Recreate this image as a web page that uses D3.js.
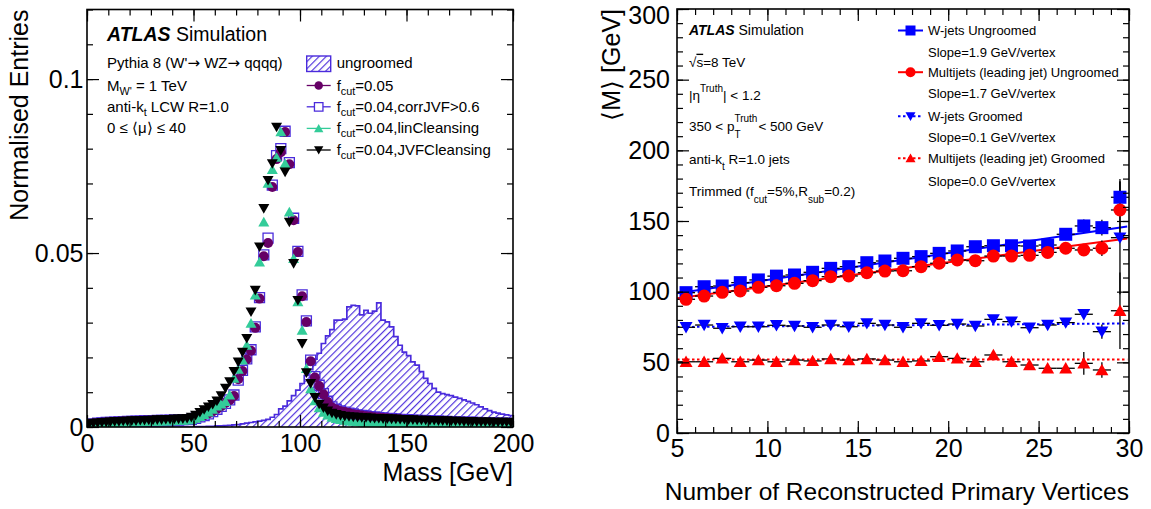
<!DOCTYPE html>
<html>
<head>
<meta charset="utf-8">
<script src="https://cdn.jsdelivr.net/npm/d3@7"></script>
<style>
  body { margin: 0; background: #fff; }
  svg { font-family: "Liberation Sans", Arial, Helvetica, sans-serif; }
</style>
</head>
<body>
<svg id="chart" width="1151" height="509"></svg>
<script>
// ---------------- Left panel: jet mass distributions (2 GeV bins, centres 1..199) ----------------
const massBinCentres = d3.range(1, 200, 2);

const ungroomed = [
  0, 0, 0, 0, 0, 0, 0, 0, 0, 0,
  0, 0, 0, 0, 0, 0, 0, 0, 0, 0,
  0, 0, 0, 0, 0, 0.0001, 0.0001, 0.0001, 0.0002, 0.0002,
  0.0003, 0.0003, 0.0004, 0.0005, 0.0006, 0.0007, 0.0009, 0.0011, 0.0013, 0.0015,
  0.0017, 0.0019, 0.0022, 0.0028, 0.0036, 0.0052, 0.0060, 0.0075, 0.0090, 0.0106,
  0.0125, 0.0148, 0.0165, 0.0195, 0.0212, 0.0240, 0.0262, 0.0280, 0.0307, 0.0307,
  0.0310, 0.0345, 0.0350, 0.0348, 0.0322, 0.0335, 0.0327, 0.0333, 0.0357, 0.0307,
  0.0302, 0.0288, 0.0260, 0.0235, 0.0215, 0.0205, 0.0187, 0.0178, 0.0159, 0.0140,
  0.0125, 0.0111, 0.0100, 0.0096, 0.0093, 0.0090, 0.0086, 0.0082, 0.0078, 0.0074,
  0.0069, 0.0064, 0.0058, 0.0052, 0.0047, 0.0043, 0.0040, 0.0037, 0.0035, 0.0033
];

const fcut005 = [
  0.0008, 0.0010, 0.0011, 0.0012, 0.0013, 0.0014, 0.0015, 0.0015, 0.0016, 0.0016,
  0.0017, 0.0017, 0.0018, 0.0018, 0.0018, 0.0019, 0.0019, 0.0019, 0.0020, 0.0020,
  0.0020, 0.0021, 0.0021, 0.0022, 0.0023, 0.0026, 0.0030, 0.0034, 0.0039, 0.0045,
  0.0052, 0.0060, 0.0069, 0.0077, 0.0089, 0.0137, 0.0161, 0.0194, 0.0219, 0.0285,
  0.0369, 0.0491, 0.0529, 0.0690, 0.0770, 0.0790, 0.0848, 0.0755, 0.0594, 0.0503,
  0.0376, 0.0302, 0.0189, 0.0142, 0.0118, 0.0094, 0.0072, 0.0056, 0.0050, 0.0045,
  0.0043, 0.0040, 0.0037, 0.0035, 0.0033, 0.0031, 0.0030, 0.0028, 0.0027, 0.0026,
  0.0025, 0.0024, 0.0023, 0.0022, 0.0021, 0.0020, 0.0019, 0.0019, 0.0018, 0.0018,
  0.0017, 0.0017, 0.0016, 0.0016, 0.0015, 0.0015, 0.0014, 0.0014, 0.0014, 0.0013,
  0.0013, 0.0012, 0.0012, 0.0012, 0.0011, 0.0011, 0.0011, 0.0010, 0.0010, 0.0010
];

const fcut004CorrJVF = [
  0.0007, 0.0009, 0.0011, 0.0012, 0.0013, 0.0013, 0.0014, 0.0015, 0.0015, 0.0016,
  0.0016, 0.0017, 0.0017, 0.0018, 0.0018, 0.0018, 0.0019, 0.0019, 0.0019, 0.0020,
  0.0020, 0.0020, 0.0021, 0.0021, 0.0022, 0.0025, 0.0029, 0.0033, 0.0038, 0.0044,
  0.0051, 0.0059, 0.0068, 0.0078, 0.0092, 0.0135, 0.0163, 0.0196, 0.0222, 0.0288,
  0.0372, 0.0495, 0.0543, 0.0695, 0.0780, 0.0800, 0.0850, 0.0760, 0.0600, 0.0505,
  0.0380, 0.0305, 0.0192, 0.0145, 0.0120, 0.0096, 0.0074, 0.0058, 0.0051, 0.0046,
  0.0043, 0.0040, 0.0038, 0.0035, 0.0033, 0.0032, 0.0030, 0.0029, 0.0027, 0.0026,
  0.0025, 0.0024, 0.0023, 0.0022, 0.0021, 0.0021, 0.0020, 0.0019, 0.0019, 0.0018,
  0.0018, 0.0017, 0.0017, 0.0016, 0.0016, 0.0015, 0.0015, 0.0014, 0.0014, 0.0014,
  0.0013, 0.0013, 0.0012, 0.0012, 0.0012, 0.0011, 0.0011, 0.0011, 0.0010, 0.0010
];

const fcut004LinCleansing = [
  0.0006, 0.0008, 0.0009, 0.0010, 0.0011, 0.0012, 0.0012, 0.0013, 0.0013, 0.0014,
  0.0014, 0.0015, 0.0015, 0.0015, 0.0016, 0.0016, 0.0016, 0.0017, 0.0017, 0.0018,
  0.0018, 0.0019, 0.0019, 0.0020, 0.0021, 0.0025, 0.0030, 0.0036, 0.0043, 0.0051,
  0.0060, 0.0066, 0.0073, 0.0092, 0.0140, 0.0166, 0.0192, 0.0235, 0.0298, 0.0379,
  0.0474, 0.0589, 0.0700, 0.0740, 0.0775, 0.0848, 0.0757, 0.0618, 0.0484, 0.0360,
  0.0278, 0.0168, 0.0110, 0.0075, 0.0055, 0.0042, 0.0034, 0.0028, 0.0024, 0.0021,
  0.0019, 0.0017, 0.0016, 0.0015, 0.0014, 0.0013, 0.0013, 0.0012, 0.0012, 0.0011,
  0.0011, 0.0011, 0.0010, 0.0010, 0.0010, 0.0010, 0.0009, 0.0009, 0.0009, 0.0009,
  0.0009, 0.0009, 0.0008, 0.0008, 0.0008, 0.0008, 0.0008, 0.0008, 0.0008, 0.0007,
  0.0007, 0.0007, 0.0007, 0.0007, 0.0007, 0.0007, 0.0006, 0.0006, 0.0006, 0.0006
];

const fcut004JVFCleansing = [
  0.0009, 0.0011, 0.0012, 0.0013, 0.0014, 0.0015, 0.0016, 0.0016, 0.0017, 0.0017,
  0.0018, 0.0018, 0.0019, 0.0019, 0.0020, 0.0020, 0.0021, 0.0021, 0.0022, 0.0022,
  0.0023, 0.0023, 0.0024, 0.0025, 0.0028, 0.0034, 0.0042, 0.0050, 0.0058, 0.0065,
  0.0075, 0.0090, 0.0112, 0.0130, 0.0160, 0.0187, 0.0215, 0.0255, 0.0331, 0.0393,
  0.0518, 0.0628, 0.0709, 0.0757, 0.0862, 0.0795, 0.0733, 0.0589, 0.0470, 0.0364,
  0.0240, 0.0156, 0.0125, 0.0085, 0.0066, 0.0055, 0.0046, 0.0040, 0.0036, 0.0033,
  0.0031, 0.0030, 0.0029, 0.0028, 0.0027, 0.0027, 0.0026, 0.0025, 0.0025, 0.0024,
  0.0024, 0.0023, 0.0023, 0.0022, 0.0022, 0.0021, 0.0021, 0.0020, 0.0020, 0.0020,
  0.0019, 0.0019, 0.0018, 0.0018, 0.0018, 0.0017, 0.0017, 0.0017, 0.0016, 0.0016,
  0.0016, 0.0015, 0.0015, 0.0015, 0.0015, 0.0014, 0.0014, 0.0014, 0.0014, 0.0013
];

const massMajorTicks = [0, 50, 100, 150, 200];
const massTickLabels = ["0", "50", "100", "150", "200"];
const entriesMajorTicks = [0, 0.05, 0.1];
const entriesTickLabels = ["0", "0.05", "0.1"];

// ---------------- Right panel: mean jet mass vs. number of primary vertices ----------------
const nVertices = d3.range(5.5, 30, 1);

const wjetsUngroomed = [99.3, 103.5, 104.0, 106.4, 108.3, 111.0, 111.8, 113.7, 116.5, 117.7,
  120.5, 121.7, 123.6, 124.8, 127.1, 128.8, 131.8, 132.5, 132.5, 132.3, 133.0, 140.6, 146.5, 145.3, 166.8];
const wjetsUngroomedErr = [0.8, 0.8, 0.8, 0.8, 0.8, 0.8, 0.8, 0.8, 0.8, 0.8,
  0.9, 0.9, 0.9, 1.0, 1.0, 1.1, 1.2, 1.3, 1.5, 1.7, 2.0, 2.5, 4.5, 5.5, 11];

const multijetUngroomed = [94.6, 96.9, 99.5, 100.5, 103.1, 104.2, 105.9, 107.8, 110.6, 111.1,
  113.4, 114.6, 114.8, 117.7, 120.1, 122.4, 121.9, 125.2, 125.2, 125.7, 127.8, 130.7, 129.5, 130.7, 157.8];
const multijetUngroomedErr = [0.8, 0.8, 0.8, 0.8, 0.8, 0.8, 0.8, 0.8, 0.8, 0.8,
  0.9, 0.9, 0.9, 1.0, 1.0, 1.1, 1.2, 1.3, 1.5, 1.7, 2.0, 2.5, 4.0, 5.5, 22];

const wjetsGroomed = [74.8, 76.4, 74.1, 75.2, 75.2, 76.2, 75.7, 74.8, 76.4, 75.2,
  77.6, 76.4, 74.8, 77.6, 76.2, 77.1, 75.7, 80.4, 78.8, 74.5, 76.4, 78.1, 84.0, 71.7, 138.2];
const wjetsGroomedErr = [0.6, 0.6, 0.6, 0.6, 0.6, 0.6, 0.6, 0.6, 0.6, 0.6,
  0.7, 0.7, 0.7, 0.8, 0.8, 0.9, 1.0, 1.1, 1.3, 1.5, 1.8, 2.5, 3.5, 5.0, 40];

const multijetGroomed = [50.4, 50.4, 52.8, 50.4, 51.6, 50.4, 51.6, 51.0, 52.4, 51.6,
  52.4, 51.6, 50.4, 51.0, 54.0, 52.8, 50.4, 55.2, 50.4, 48.1, 45.8, 45.8, 49.3, 44.6, 86.5];
const multijetGroomedErr = [0.6, 0.6, 0.6, 0.6, 0.6, 0.6, 0.6, 0.6, 0.6, 0.6,
  0.7, 0.7, 0.7, 0.8, 0.8, 0.9, 1.0, 1.1, 1.3, 1.5, 2.0, 3.0, 8.0, 5.5, 27];

// linear fits: value at 5 vertices and slope in GeV/vertex
const fitOffsets = [98.8, 95.3, 75.0, 52.0];
const fitSlopes = [1.9, 1.7, 0.1, 0.0];

const vertexMajorTicks = [5, 10, 15, 20, 25, 30];
const vertexTickLabels = ["5", "10", "15", "20", "25", "30"];
const meanMassMajorTicks = [0, 50, 100, 150, 200, 250, 300];
const meanMassTickLabels = ["0", "50", "100", "150", "200", "250", "300"];

// ---------------- drawing ----------------
const svg = d3.select("#chart");
const FONT = '"Liberation Sans", Arial, Helvetica, sans-serif';

const colUngroomed = "#4a2bdc";
const colFcut005 = "#660066";
const colCorrJVF = "#4a2bdc";
const colLin = "#33cc99";
const colJVF = "#000000";

const defs = svg.append("defs");
defs.append("pattern")
  .attr("id", "hatch")
  .attr("patternUnits", "userSpaceOnUse")
  .attr("width", 5).attr("height", 10)
  .attr("patternTransform", "rotate(45)")
  .append("line")
  .attr("x1", 0.6).attr("y1", 0).attr("x2", 0.6).attr("y2", 10)
  .attr("stroke", colUngroomed).attr("stroke-width", 1.15);

function markerPath(kind, s) {
  switch (kind) {
    case "circle": return d3.symbol(d3.symbolCircle, Math.PI * s * s)();
    case "square": return d3.symbol(d3.symbolSquare, 4 * s * s)();
    case "up": return `M${-s},${s * 0.8}L${s},${s * 0.8}L0,${-s * 0.95}Z`;
    case "down": return `M${-s},${-s * 0.8}L${s},${-s * 0.8}L0,${s * 0.95}Z`;
  }
}

// draws ROOT-style inward ticks on all four sides
function drawFrame(g, x, y, xMaj, xMin, yMaj, yMin, xLabels, yLabels, xPad, yPad) {
  const [x0, x1] = x.range();
  const [yb, yt] = y.range();
  const major = 12, minor = 6;

  g.append("g").attr("transform", `translate(0,${yb})`)
    .call(d3.axisBottom(x).tickValues(xMaj).tickSizeInner(-major).tickSizeOuter(0)
      .tickPadding(xPad).tickFormat((d, i) => xLabels[i]));
  const left = g.append("g").attr("transform", `translate(${x0},0)`)
    .call(d3.axisLeft(y).tickValues(yMaj).tickSizeInner(-major).tickSizeOuter(0)
      .tickPadding(yPad).tickFormat((d, i) => yLabels[i]));
  // keep the label at the very top of the frame inside the page
  left.selectAll(".tick text").filter(d => y(d) - yt < 1).attr("dy", 14);
  g.append("g").attr("transform", `translate(0,${yb})`)
    .call(d3.axisBottom(x).tickValues(xMin).tickSizeInner(-minor).tickSizeOuter(0).tickFormat(""));
  g.append("g").attr("transform", `translate(${x0},0)`)
    .call(d3.axisLeft(y).tickValues(yMin).tickSizeInner(-minor).tickSizeOuter(0).tickFormat(""));
  g.append("g").attr("transform", `translate(0,${yt})`)
    .call(d3.axisTop(x).tickValues(xMaj).tickSizeInner(-major).tickSizeOuter(0).tickFormat(""));
  g.append("g").attr("transform", `translate(0,${yt})`)
    .call(d3.axisTop(x).tickValues(xMin).tickSizeInner(-minor).tickSizeOuter(0).tickFormat(""));
  g.append("g").attr("transform", `translate(${x1},0)`)
    .call(d3.axisRight(y).tickValues(yMaj).tickSizeInner(-major).tickSizeOuter(0).tickFormat(""));
  g.append("g").attr("transform", `translate(${x1},0)`)
    .call(d3.axisRight(y).tickValues(yMin).tickSizeInner(-minor).tickSizeOuter(0).tickFormat(""));

  g.selectAll(".domain").remove();
  g.selectAll(".tick line").attr("stroke", "#000").attr("stroke-width", 1.2);
  g.selectAll("g").attr("font-family", FONT).attr("font-size", 25);
  g.selectAll(".tick text").attr("fill", "#000");

  g.append("rect")
    .attr("x", x0).attr("y", yt).attr("width", x1 - x0).attr("height", yb - yt)
    .attr("fill", "none").attr("stroke", "#000").attr("stroke-width", 1.6);
}

// text with sub/superscripts: parts = [{t, sub?, sup?}]
function richText(g, x, y, parts, size, opts = {}) {
  const t = g.append("text").attr("x", x).attr("y", y)
    .attr("font-size", size).attr("fill", "#000");
  if (opts.anchor) t.attr("text-anchor", opts.anchor);
  let shift = 0;
  parts.forEach(p => {
    let target = 0;
    const s = p.size || size * 0.72;
    if (p.sub) target = p.sub === true ? size * 0.3 : p.sub;
    if (p.sup) target = -(p.sup === true ? size * 0.45 : p.sup);
    const ts = t.append("tspan").text(p.t).attr("dy", target - shift);
    if (p.sub || p.sup) ts.attr("font-size", s);
    if (p.dx) ts.attr("dx", p.dx);
    if (p.style) ts.attr("font-style", p.style);
    if (p.weight) ts.attr("font-weight", p.weight);
    if (p.family) ts.attr("font-family", p.family);
    if (p.over) ts.attr("text-decoration", "overline");
    shift = target;
  });
  return t;
}

// ===== Left panel =====
const L = { x0: 87, x1: 513, y0: 9.5, y1: 427 };
const xL = d3.scaleLinear().domain([0, 200]).range([L.x0, L.x1]);
const yL = d3.scaleLinear().domain([0, 0.12]).range([L.y1, L.y0]);

const gL = svg.append("g");
defs.append("clipPath").attr("id", "clipL").append("rect")
  .attr("x", L.x0).attr("y", L.y0).attr("width", L.x1 - L.x0).attr("height", L.y1 - L.y0);

const plotL = gL.append("g").attr("clip-path", "url(#clipL)");

// ungroomed histogram (step outline + hatched fill)
const histPts = massBinCentres.map((c, i) => [c - 1, ungroomed[i]]);
histPts.push([200, ungroomed[ungroomed.length - 1]]);
plotL.append("path")
  .attr("d", d3.area().curve(d3.curveStepAfter)
    .x(d => xL(d[0])).y0(yL(0)).y1(d => yL(d[1]))(histPts))
  .attr("fill", "url(#hatch)");
plotL.append("path")
  .attr("d", d3.line().curve(d3.curveStepAfter)
    .x(d => xL(d[0])).y(d => yL(d[1]))(histPts))
  .attr("fill", "none").attr("stroke", colUngroomed).attr("stroke-width", 1.7);

const leftSeries = [
  { values: fcut004CorrJVF, kind: "square", color: colCorrJVF, size: 5, open: true },
  { values: fcut005, kind: "circle", color: colFcut005, size: 5 },
  { values: fcut004LinCleansing, kind: "up", color: colLin, size: 5.5 },
  { values: fcut004JVFCleansing, kind: "down", color: colJVF, size: 5.5 }
];
leftSeries.forEach(s => {
  plotL.append("g").selectAll("path")
    .data(massBinCentres.map((c, i) => [c, s.values[i]]))
    .join("path")
    .attr("transform", d => `translate(${xL(d[0])},${yL(d[1])})`)
    .attr("d", markerPath(s.kind, s.size))
    .attr("fill", s.open ? "none" : s.color)
    .attr("stroke", s.open ? s.color : "none")
    .attr("stroke-width", 1.3);
});

drawFrame(gL, xL, yL, massMajorTicks, d3.range(0, 201, 10),
  entriesMajorTicks, d3.range(0, 13).map(i => i / 100),
  massTickLabels, entriesTickLabels, 7.5, 3.5);

// axis titles
gL.append("text").attr("x", L.x1).attr("y", 481).attr("text-anchor", "end")
  .attr("font-size", 25).text("Mass [GeV]");
gL.append("text").attr("transform", `translate(28,${L.y0}) rotate(-90)`)
  .attr("text-anchor", "end").attr("font-size", 25).text("Normalised Entries");

// labels
richText(gL, 107, 41, [{ t: "ATLAS", weight: "bold", style: "italic" }, { t: " Simulation" }], 19.5);
const tsz = 15;
const ARROW_FONT = '"DejaVu Sans", sans-serif';
richText(gL, 107, 68.3, [{ t: "Pythia 8 (W'" }, { t: "\u2192", family: ARROW_FONT }, { t: " WZ" },
  { t: "\u2192", family: ARROW_FONT }, { t: " qqqq)" }], tsz);
richText(gL, 107, 90.5, [{ t: "M" }, { t: "W'", sub: 4 }, { t: " = 1 TeV" }], tsz);
richText(gL, 107, 111.8, [{ t: "anti-k" }, { t: "t", sub: 4 }, { t: " LCW R=1.0" }], tsz);
richText(gL, 107, 133.4, [{ t: "0 \u2264 \u27e8\u03bc\u27e9 \u2264 40" }], tsz);

// legend
const legX0 = 306.7, legX1 = 330.7, legTx = 336.7;
gL.append("rect").attr("x", legX0).attr("y", 56).attr("width", legX1 - legX0).attr("height", 15.5)
  .attr("fill", "url(#hatch)").attr("stroke", colUngroomed).attr("stroke-width", 1.4);
richText(gL, legTx, 68.3, [{ t: "ungroomed" }], tsz);
const legRows = [
  { base: 90.5, s: leftSeries[1], label: "=0.05" },
  { base: 111.8, s: leftSeries[0], label: "=0.04,corrJVF>0.6" },
  { base: 133.4, s: leftSeries[2], label: "=0.04,linCleansing" },
  { base: 155, s: leftSeries[3], label: "=0.04,JVFCleansing" }
];
legRows.forEach(r => {
  const cy = r.base - 5;
  gL.append("line").attr("x1", legX0).attr("x2", legX1).attr("y1", cy).attr("y2", cy)
    .attr("stroke", r.s.color).attr("stroke-width", 1.3);
  gL.append("path").attr("transform", `translate(${(legX0 + legX1) / 2},${cy})`)
    .attr("d", markerPath(r.s.kind, r.s.size * 0.85))
    .attr("fill", r.s.open ? "#fff" : r.s.color)
    .attr("stroke", r.s.open ? r.s.color : "none").attr("stroke-width", 1.3);
  richText(gL, legTx, r.base, [{ t: "f" }, { t: "cut", sub: 4 }, { t: r.label }], tsz);
});

// ===== Right panel =====
const R = { x0: 677, x1: 1129, y0: 9, y1: 433 };
const xR = d3.scaleLinear().domain([5, 30]).range([R.x0, R.x1]);
const yR = d3.scaleLinear().domain([0, 300]).range([R.y1, R.y0]);

const gR = svg.append("g");
defs.append("clipPath").attr("id", "clipR").append("rect")
  .attr("x", R.x0).attr("y", R.y0).attr("width", R.x1 - R.x0).attr("height", R.y1 - R.y0);
const plotR = gR.append("g").attr("clip-path", "url(#clipR)");

const rightSeries = [
  { values: wjetsUngroomed, err: wjetsUngroomedErr, kind: "square", color: "#0000ff", dash: null,
    label: "W-jets Ungroomed" },
  { values: multijetUngroomed, err: multijetUngroomedErr, kind: "circle", color: "#ff0000", dash: null,
    label: "Multijets (leading jet) Ungroomed" },
  { values: wjetsGroomed, err: wjetsGroomedErr, kind: "down", color: "#0000ff", dash: "2.5,2.5",
    label: "W-jets Groomed" },
  { values: multijetGroomed, err: multijetGroomedErr, kind: "up", color: "#ff0000", dash: "2.5,2.5",
    label: "Multijets (leading jet) Groomed" }
];

// fit lines
rightSeries.forEach((s, k) => {
  const ends = [5, 29.9].map(v => [v, fitOffsets[k] + fitSlopes[k] * (v - 5)]);
  plotR.append("path")
    .attr("d", d3.line().x(d => xR(d[0])).y(d => yR(d[1]))(ends))
    .attr("fill", "none").attr("stroke", s.color).attr("stroke-width", 2)
    .attr("stroke-dasharray", s.dash);
});

// error bars
rightSeries.forEach(s => {
  const eg = plotR.append("g").attr("stroke", "#000").attr("stroke-width", 1.3);
  nVertices.forEach((n, i) => {
    eg.append("line").attr("x1", xR(n - 0.5)).attr("x2", xR(n + 0.5))
      .attr("y1", yR(s.values[i])).attr("y2", yR(s.values[i]));
    eg.append("line").attr("x1", xR(n)).attr("x2", xR(n))
      .attr("y1", yR(s.values[i] - s.err[i])).attr("y2", yR(s.values[i] + s.err[i]));
  });
});

// markers
rightSeries.forEach(s => {
  plotR.append("g").selectAll("path")
    .data(nVertices.map((n, i) => [n, s.values[i]]))
    .join("path")
    .attr("transform", d => `translate(${xR(d[0])},${yR(d[1])})`)
    .attr("d", markerPath(s.kind, 6.5))
    .attr("fill", s.color);
});

drawFrame(gR, xR, yR, vertexMajorTicks, d3.range(5, 31, 1),
  meanMassMajorTicks, d3.range(0, 301, 10),
  vertexTickLabels, meanMassTickLabels, 6.5, 7);

gR.append("text").attr("x", R.x1).attr("y", 500).attr("text-anchor", "end")
  .attr("font-size", 24.5).text("Number of Reconstructed Primary Vertices");
gR.append("text").attr("transform", `translate(620,${R.y0}) rotate(-90)`)
  .attr("text-anchor", "end").attr("font-size", 25).text("\u27e8M\u27e9 [GeV]");

// labels
richText(gR, 689, 35, [{ t: "ATLAS", weight: "bold", style: "italic" }, { t: "  Simulation" }], 14);
const rsz = 13.5;
richText(gR, 689, 66.7, [{ t: "\u221a" }, { t: "s", over: true }, { t: "=8 TeV" }], rsz);
richText(gR, 689, 100, [{ t: "|\u03b7" }, { t: "Truth", sup: 8, size: 10 }, { t: "| < 1.2" }], rsz);
{
  const t = richText(gR, 689, 130.7, [{ t: "350 < p" }], rsz);
  const w = t.node().getComputedTextLength();
  richText(gR, 689 + w, 130.7, [{ t: "Truth", sup: 9, size: 10 }], rsz);
  richText(gR, 689 + w, 130.7, [{ t: "T", sub: 7, size: 10 }], rsz);
  const wTruth = gR.append("text").attr("font-size", 10).text("Truth");
  const tw = wTruth.node().getComputedTextLength();
  wTruth.remove();
  richText(gR, 689 + w + tw + 1, 130.7, [{ t: " < 500 GeV" }], rsz);
}
richText(gR, 689, 164, [{ t: "anti-k" }, { t: "t", sub: 6, size: 10 }, { t: " R=1.0 jets" }], rsz);
richText(gR, 689, 196, [{ t: "Trimmed (f" }, { t: "cut", sub: 7, size: 10 }, { t: "=5%,R" },
  { t: "sub", sub: 7, size: 10 }, { t: "=0.2)" }], rsz);

// legend
const rlx0 = 898, rlx1 = 923, rlTx = 928;
const rowBase = [35, 76.7, 120.7, 162.7];
const slopeBase = [56.7, 98.3, 141.7, 185.7];
rightSeries.forEach((s, k) => {
  const cy = rowBase[k] - 4.5;
  gR.append("line").attr("x1", rlx0).attr("x2", rlx1).attr("y1", cy).attr("y2", cy)
    .attr("stroke", s.color).attr("stroke-width", 2).attr("stroke-dasharray", s.dash);
  gR.append("path").attr("transform", `translate(${(rlx0 + rlx1) / 2},${cy})`)
    .attr("d", markerPath(s.kind, 5)).attr("fill", s.color);
  richText(gR, rlTx, rowBase[k], [{ t: s.label }], 13);
  richText(gR, rlTx, slopeBase[k], [{ t: `Slope=${fitSlopes[k].toFixed(1)} GeV/vertex` }], 13);
});
</script>
</body>
</html>
